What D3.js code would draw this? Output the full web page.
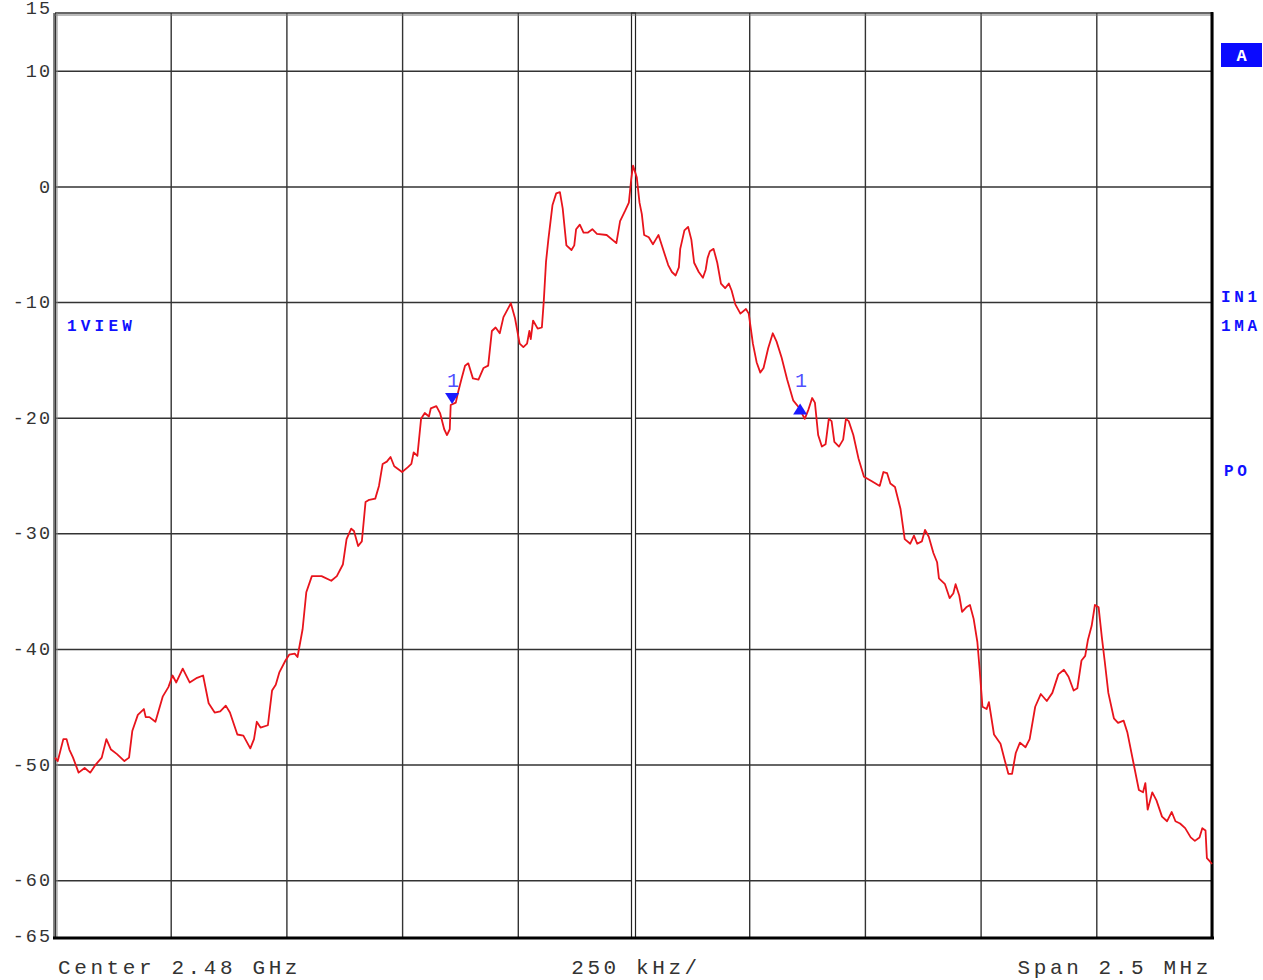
<!DOCTYPE html>
<html lang="en">
<head>
<meta charset="UTF-8" />
<title>Spectrum 2.48 GHz</title>
<script src="https://d3js.org/d3.v7.min.js"></script>
<style>
  html, body { margin: 0; padding: 0; background: #fff; }
  svg { display: block; }
  .tick-label { font-family: "Liberation Mono", monospace; fill: #333; }
  .note { font-family: "Liberation Mono", monospace; font-weight: bold; fill: #1010ff; }
</style>
</head>
<body>
<svg width="1263" height="980"></svg>
<script>
// frequency offset from centre (kHz) and level (dB)
const freqKHz = [
  -1250, -1244, -1232, -1225, -1219, -1211, -1199, -1186, -1174, -1162, -1149, -1139, -1129, -1116, -1100, -1090,
  -1083, -1071, -1058, -1054, -1046, -1033, -1025, -1017, -1005, -996, -988, -974, -959, -943, -930, -918,
  -905, -893, -881, -872, -856, -843, -828, -820, -814, -806, -790, -781, -773, -765, -752, -744,
  -732, -726, -715, -707, -695, -674, -653, -641, -628, -620, -610, -604, -595, -587, -579, -571,
  -558, -550, -542, -533, -525, -517, -500, -488, -480, -475, -467, -459, -451, -442, -438, -426,
  -418, -409, -403, -397, -395, -384, -379, -372, -364, -357, -347, -335, -324, -314, -306, -298,
  -289, -281, -265, -256, -246, -238, -230, -225, -222, -217, -207, -198, -194, -189, -184, -175,
  -167, -159, -153, -145, -134, -128, -124, -116, -108, -99, -89, -79, -58, -37, -29, -18,
  -10, -5, -1,
  7, 13, 18, 23, 33, 42, 48, 54, 62, 75, 83, 91, 98, 101, 110, 118,
  125, 131, 141, 150, 156, 160, 165, 173, 181, 189, 198, 206, 212, 220, 231, 243,
  249, 258, 266, 274, 281, 291, 301, 309, 320, 332, 345, 357, 370, 378, 386, 392,
  399, 407, 415, 422, 428, 434, 444, 453, 459, 465, 475, 486, 498, 515, 532, 540,
  548, 555, 565, 577, 586, 598, 606, 613, 623, 630, 638, 648, 656, 660, 673, 683,
  691, 696, 704, 710, 719, 727, 735, 743, 748, 754, 763, 768, 779, 793, 802, 810,
  818, 826, 835, 847, 856, 868, 880, 893, 905, 918, 930, 940, 951, 959, 968, 976,
  982, 990, 997, 1005, 1012, 1018, 1026, 1038, 1047, 1059, 1067, 1080, 1092, 1101, 1106, 1111,
  1121, 1130, 1142, 1153, 1163, 1171, 1181, 1192, 1204, 1213, 1223, 1229, 1236, 1239, 1246, 1250
];
const levelDb = [
  -49.4, -49.7, -47.8, -47.8, -48.7, -49.4, -50.7, -50.3, -50.7, -50.0, -49.4, -47.8, -48.7, -49.1, -49.7, -49.4,
  -47.1, -45.7, -45.2, -45.9, -45.9, -46.3, -45.2, -44.1, -43.3, -42.3, -42.9, -41.7, -42.9, -42.5, -42.3, -44.7,
  -45.5, -45.4, -44.9, -45.5, -47.4, -47.5, -48.6, -47.8, -46.3, -46.8, -46.6, -43.6, -43.1, -42.0, -41.0, -40.5,
  -40.4, -40.7, -38.3, -35.1, -33.7, -33.7, -34.1, -33.7, -32.7, -30.5, -29.6, -29.8, -31.1, -30.7, -27.3, -27.1,
  -27.0, -25.9, -24.0, -23.8, -23.4, -24.2, -24.7, -24.3, -24.0, -23.0, -23.3, -20.1, -19.6, -19.9, -19.2, -19.0,
  -19.6, -21.0, -21.5, -21.0, -18.9, -18.7, -17.8, -16.7, -15.5, -15.3, -16.6, -16.7, -15.7, -15.5, -12.5, -12.2,
  -12.7, -11.3, -10.1, -11.4, -13.6, -13.9, -13.6, -12.5, -13.2, -11.6, -12.3, -12.2, -10.0, -6.5, -4.6, -1.6,
  -0.6, -0.5, -1.9, -5.1, -5.5, -5.1, -3.7, -3.3, -4.0, -4.0, -3.7, -4.1, -4.2, -4.9, -3.0, -2.1,
  -1.4, 0.6, 1.8,
  0.8, -1.4, -2.4, -4.2, -4.4, -5.0, -4.6, -4.2, -5.2, -6.8, -7.4, -7.7, -7.0, -5.4, -3.8, -3.5,
  -4.6, -6.6, -7.4, -7.9, -7.2, -6.2, -5.6, -5.4, -6.6, -8.4, -8.8, -8.4, -9.0, -10.2, -11.0, -10.6,
  -11.0, -13.6, -15.2, -16.1, -15.7, -14.0, -12.7, -13.4, -14.8, -16.7, -18.5, -19.1, -20.1, -19.3, -18.3, -18.7,
  -21.5, -22.5, -22.3, -20.1, -20.3, -22.1, -22.5, -21.9, -20.1, -20.3, -21.5, -23.5, -25.1, -25.5, -25.9, -24.7,
  -24.8, -25.7, -26.0, -27.9, -30.5, -30.9, -30.2, -30.9, -30.7, -29.7, -30.3, -31.7, -32.5, -33.9, -34.4, -35.6,
  -35.2, -34.4, -35.4, -36.8, -36.4, -36.2, -37.4, -39.4, -41.8, -45.0, -45.2, -44.6, -47.4, -48.2, -49.6, -50.8,
  -50.8, -49.0, -48.1, -48.5, -47.8, -45.0, -43.9, -44.5, -43.8, -42.2, -41.8, -42.4, -43.6, -43.4, -41.0, -40.6,
  -39.2, -38.0, -36.2, -36.4, -39.0, -41.0, -43.8, -46.0, -46.4, -46.2, -47.2, -49.8, -52.2, -52.4, -51.6, -53.9,
  -52.4, -53.1, -54.5, -54.9, -54.1, -54.9, -55.1, -55.5, -56.3, -56.6, -56.3, -55.5, -55.7, -58.1, -58.4, -58.6
];

const yTickValues = [15, 10, 0, -10, -20, -30, -40, -50, -60, -65];
const yGridValues = [10, 0, -10, -20, -30, -40, -50, -60];
const xGridValues = d3.range(-1250, 1251, 250);

const markerFreq = [-392, 360];
const markerLevel = [-18.3, -19.3];
const markerDir = ["down", "up"];

const sideNotes = [
  { text: "IN1", y: 296 },
  { text: "1MA", y: 325 },
  { text: "PO", y: 470, dx: 3 }
];

const svg = d3.select("svg");
const plotLeft = 55, plotRight = 1212, plotTop = 13, plotBottom = 938;

const x = d3.scaleLinear().domain([-1250, 1250]).range([plotLeft, plotRight]);
const y = d3.scaleLinear().domain([-65, 15]).range([plotBottom, plotTop]);

// grid
svg.append("g")
  .attr("transform", `translate(0,${plotBottom})`)
  .call(d3.axisBottom(x).tickValues(xGridValues).tickSize(-(plotBottom - plotTop)).tickFormat(""))
  .call(g => g.select(".domain").remove())
  .call(g => g.selectAll("line").attr("stroke", "#333").attr("stroke-width", 1.4));

svg.append("g")
  .attr("transform", `translate(${plotLeft},0)`)
  .call(d3.axisLeft(y).tickValues(yGridValues).tickSize(-(plotRight - plotLeft)).tickFormat(""))
  .call(g => g.select(".domain").remove())
  .call(g => g.selectAll("line").attr("stroke", "#333").attr("stroke-width", 1.4));

// centre double line
svg.append("rect")
  .attr("x", x(0) - 2).attr("y", plotTop).attr("width", 4).attr("height", plotBottom - plotTop)
  .attr("fill", "#fff").attr("stroke", "#222").attr("stroke-width", 1.2);

// frame
svg.append("line").attr("x1", plotLeft).attr("x2", plotRight).attr("y1", plotTop).attr("y2", plotTop)
  .attr("stroke", "#333").attr("stroke-width", 1.5);
svg.append("line").attr("x1", plotLeft - 1).attr("x2", plotRight).attr("y1", plotTop + 2).attr("y2", plotTop + 2)
  .attr("stroke", "#777").attr("stroke-width", 1);
svg.append("line").attr("x1", plotLeft - 1).attr("x2", plotLeft - 1).attr("y1", plotTop).attr("y2", plotBottom)
  .attr("stroke", "#444").attr("stroke-width", 1.3);
svg.append("line").attr("x1", plotLeft + 2).attr("x2", plotLeft + 2).attr("y1", plotTop).attr("y2", plotBottom)
  .attr("stroke", "#888").attr("stroke-width", 1);
svg.append("line").attr("x1", plotLeft - 2).attr("x2", plotRight + 2).attr("y1", plotBottom).attr("y2", plotBottom)
  .attr("stroke", "#000").attr("stroke-width", 3);
svg.append("line").attr("x1", plotRight).attr("x2", plotRight).attr("y1", plotTop - 1).attr("y2", plotBottom + 1)
  .attr("stroke", "#000").attr("stroke-width", 3);

// y labels
svg.append("g")
  .attr("transform", `translate(${plotLeft + 1},0)`)
  .call(d3.axisLeft(y).tickValues(yTickValues).tickSize(0).tickPadding(4).tickFormat(d => d))
  .call(g => g.select(".domain").remove())
  .call(g => g.selectAll("text")
    .attr("class", "tick-label")
    .attr("font-size", 18.5)
    .attr("letter-spacing", 2)
    .attr("dy", d => d === 15 ? "0.05em" : d === -65 ? "0.2em" : "0.3em")
    .attr("fill", "#333"));

// trace
const line = d3.line()
  .x((d, i) => x(freqKHz[i]))
  .y(d => y(d));

svg.append("path")
  .datum(levelDb)
  .attr("d", line)
  .attr("fill", "none")
  .attr("stroke", "#e8141c")
  .attr("stroke-width", 1.8)
  .attr("stroke-linejoin", "round");

// markers
markerFreq.forEach((f, i) => {
  const mx = x(f), my = y(markerLevel[i]);
  const pts = markerDir[i] === "down"
    ? [[mx - 7, my - 5], [mx + 7, my - 5], [mx, my + 6]]
    : [[mx - 7, my + 5], [mx + 7, my + 5], [mx, my - 6]];
  svg.append("path")
    .attr("d", d3.line()(pts) + "Z")
    .attr("fill", "#1a1aff");
  svg.append("text")
    .attr("x", mx + 1).attr("y", 387)
    .attr("text-anchor", "middle")
    .attr("font-family", "Liberation Mono, monospace")
    .attr("font-size", 20)
    .attr("fill", "#5050ff")
    .text("1");
});

// annotations
svg.append("text").attr("class", "note").attr("x", 67).attr("y", 331)
  .attr("font-size", 16).attr("letter-spacing", 4.2).text("1VIEW");

svg.append("rect").attr("x", 1221).attr("y", 43).attr("width", 41).attr("height", 24).attr("fill", "#0a0aff");
svg.append("text").attr("class", "note").attr("x", 1241.5).attr("y", 61)
  .attr("text-anchor", "middle").attr("font-size", 17).style("fill", "#fff").text("A");

svg.selectAll(".side")
  .data(sideNotes)
  .join("text")
  .attr("class", "note side")
  .attr("x", d => 1221 + (d.dx || 0))
  .attr("y", d => d.y + 6)
  .attr("font-size", 16)
  .attr("letter-spacing", 3.6)
  .text(d => d.text);

// bottom labels
const foot = svg.append("g")
  .attr("font-family", "Liberation Mono, monospace")
  .attr("font-size", 21)
  .attr("letter-spacing", 3.6)
  .attr("fill", "#333");
foot.append("text").attr("x", 58).attr("y", 974).text("Center 2.48 GHz");
foot.append("text").attr("x", 636).attr("y", 974).attr("text-anchor", "middle").text("250 kHz/");
foot.append("text").attr("x", 1212).attr("y", 974).attr("text-anchor", "end").text("Span 2.5 MHz");
</script>
</body>
</html>
